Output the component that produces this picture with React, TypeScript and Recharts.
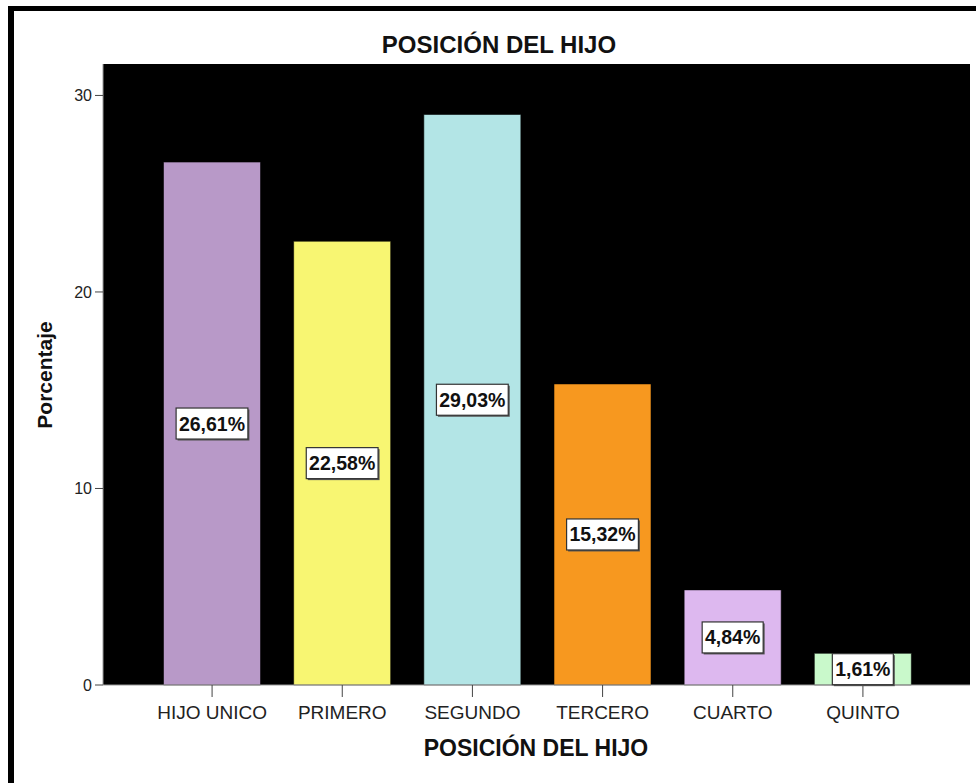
import { BarChart, Bar, XAxis, YAxis, CartesianGrid, LabelList, Cell } from 'recharts'

const categories = ['HIJO UNICO', 'PRIMERO', 'SEGUNDO', 'TERCERO', 'CUARTO', 'QUINTO']
const percentages = [26.61, 22.58, 29.03, 15.32, 4.84, 1.61]
const barColors = ['#b899c8', '#f8f672', '#b3e5e6', '#f7981f', '#ddb8ef', '#c9f9cb']
const yTicks = [0, 10, 20, 30]

const data = categories.map((name, i) => ({ name, value: percentages[i] }))

const fmt = (v: number) => `${v.toFixed(2).replace('.', ',')}%`

function BoxLabel(props: any) {
  const { x, y, width, height, value } = props
  const text = fmt(Number(value))
  const w = text.length * 10.8 + 7
  const h = 31
  const cx = x + width / 2
  const cy = y + height / 2
  return (
    <g>
      <rect x={cx - w / 2 + 1.5} y={cy - h / 2 + 1.5} width={w} height={h} fill="#555" />
      <rect x={cx - w / 2} y={cy - h / 2} width={w} height={h} fill="#fff" stroke="#333" strokeWidth={1.2} />
      <text
        x={cx}
        y={cy + 7}
        textAnchor="middle"
        fontFamily="Arial, 'Liberation Sans', sans-serif"
        fontWeight="bold"
        fontSize={19.5}
        fill="#111"
      >
        {text}
      </text>
    </g>
  )
}

export default function App() {
  const font = "Arial, 'Liberation Sans', sans-serif"
  return (
    <div style={{ position: 'absolute', left: 0, top: 0, width: 976, height: 783, background: '#fff', fontFamily: font }}>
      <div style={{ position: 'absolute', left: 8, top: 6, width: 968, height: 5, background: '#000' }} />
      <div style={{ position: 'absolute', left: 8, top: 6, width: 6, height: 777, background: '#000' }} />
      <div
        style={{
          position: 'absolute', left: 299, width: 400, top: 31, textAlign: 'center',
          fontWeight: 'bold', fontSize: 24, color: '#111', lineHeight: '28px'
        }}
      >
        POSICIÓN DEL HIJO
      </div>
      <div
        style={{
          position: 'absolute', left: 336, width: 400, top: 735, textAlign: 'center',
          fontWeight: 'bold', fontSize: 23, color: '#111', lineHeight: '26px'
        }}
      >
        POSICIÓN DEL HIJO
      </div>
      <div
        style={{
          position: 'absolute', left: 45, top: 375, transform: 'translate(-50%, -50%) rotate(-90deg)',
          fontWeight: 'bold', fontSize: 21, color: '#111', whiteSpace: 'nowrap', lineHeight: '24px'
        }}
      >
        Porcentaje
      </div>
      <div style={{ position: 'absolute', left: 0, top: 0 }}>
        <BarChart
          width={976}
          height={783}
          data={data}
          margin={{ top: 64, right: 6, left: 43, bottom: 68 }}
          barCategoryGap={16.5}
        >
          <CartesianGrid fill="#000" stroke="none" horizontal={false} vertical={false} />
          <XAxis
            dataKey="name"
            height={30}
            padding={{ left: 44, right: 42 }}
            tickSize={12}
            tickMargin={9}
            tick={{ fontSize: 19, fill: '#222', fontFamily: font }}
            axisLine={{ stroke: '#999' }}
            tickLine={{ stroke: '#444' }}
          />
          <XAxis xAxisId="top" orientation="top" dataKey="name" height={0} tick={false} tickLine={false} axisLine={{ stroke: '#aaa' }} />
          <YAxis
            width={60}
            domain={[0, 31.6]}
            ticks={yTicks}
            tickSize={8}
            tickMargin={3}
            tick={{ fontSize: 16, fill: '#222', fontFamily: font }}
            axisLine={{ stroke: '#999' }}
            tickLine={{ stroke: '#444' }}
          />
          <YAxis yAxisId="r" orientation="right" width={0} domain={[0, 31.6]} tick={false} tickLine={false} axisLine={{ stroke: '#aaa' }} />
          <Bar dataKey="value" isAnimationActive={false} stroke="rgba(0,0,0,0.55)" strokeWidth={1}>
            {data.map((d, i) => (
              <Cell key={d.name} fill={barColors[i]} />
            ))}
            <LabelList dataKey="value" content={BoxLabel} />
          </Bar>
        </BarChart>
      </div>
    </div>
  )
}
